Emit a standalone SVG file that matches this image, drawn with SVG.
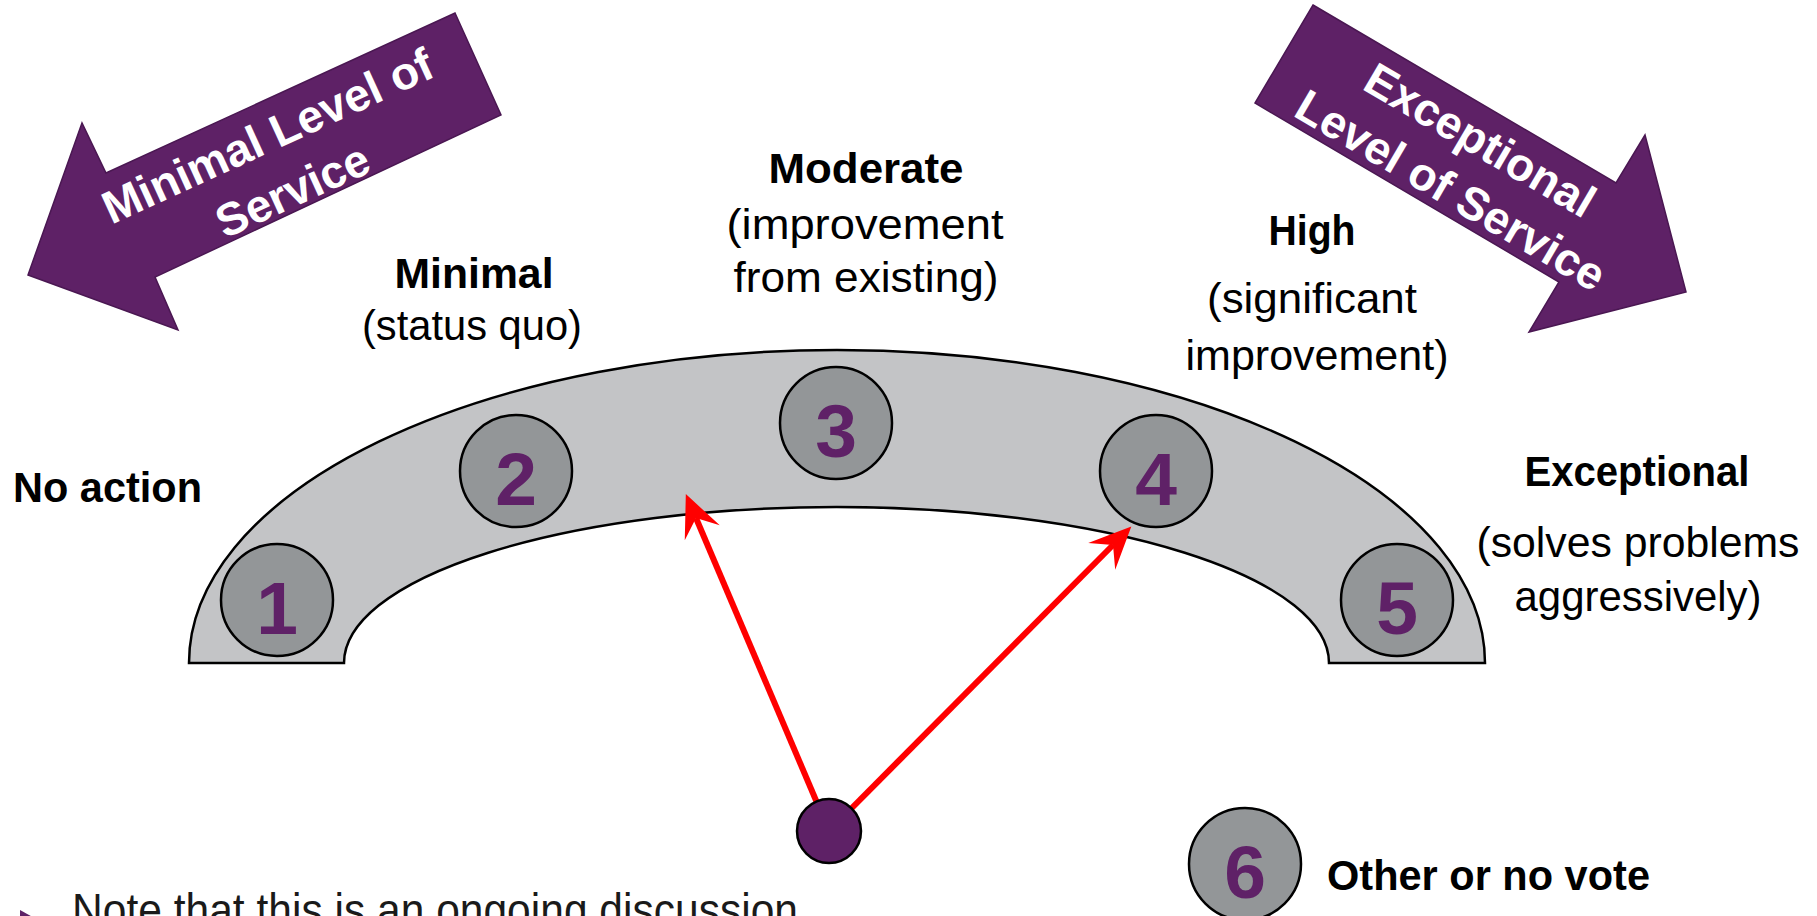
<svg xmlns="http://www.w3.org/2000/svg" width="1817" height="916" viewBox="0 0 1817 916">
<defs>
<style>
.bg{fill:#fff}
.band{fill:#C3C4C6;stroke:#000;stroke-width:2.5}
.circ{fill:#939698;stroke:#000;stroke-width:2.5}
.num{font-family:"Liberation Sans",Arial,sans-serif;font-weight:bold;font-size:75px;fill:#5F2167;text-anchor:middle}
.lb{font-family:"Liberation Sans",Arial,sans-serif;font-weight:bold;font-size:42px;fill:#000}
.lr{font-family:"Liberation Sans",Arial,sans-serif;font-size:42px;fill:#000}
.mid{text-anchor:middle}
.banner{fill:#5E2166;stroke:#4A1752;stroke-width:1.5}
.bt{font-family:"Liberation Sans",Arial,sans-serif;font-weight:bold;font-size:46px;fill:#fff;text-anchor:middle}
.conn{stroke:#FF0000;stroke-width:6;fill:none;marker-end:url(#head)}
.dot{fill:#5E2166;stroke:#000;stroke-width:2.5}
.note{font-family:"Liberation Sans",Arial,sans-serif;font-size:46px;fill:#1a1a1a}
</style>
<marker id="head" markerUnits="userSpaceOnUse" viewBox="-44 -22 46 44" refX="-26" refY="0" markerWidth="46" markerHeight="44" orient="auto">
<path d="M0 0 L-42 -19 L-26 0 L-42 19 Z" fill="#FF0000"/>
</marker>
</defs>
<rect class="bg" x="0" y="0" width="1817" height="916"/>

<g id="arrow-minimal">
<polygon class="banner" points="455,13 501,115 155,277 178,330 28,275 82,123 106,173"/>
<g transform="translate(280,163) rotate(-24.6)">
<text class="bt" x="0" y="-14" font-size="47">Minimal Level of</text>
<text class="bt" x="0" y="46" font-size="47">Service</text>
</g>
</g>

<g id="arrow-exceptional">
<polygon class="banner" points="1313,5 1616,183 1645,135 1686,292 1529,332 1559,282 1255,103"/>
<g transform="translate(1465,166) rotate(30.4)">
<text class="bt" x="0" y="-14">Exceptional</text>
<text class="bt" x="0" y="44">Level of Service</text>
</g>
</g>

<g id="gauge">
<path class="band" d="M189 663 A648 313 0 0 1 1485 663 L1329 663 A492.5 156 0 0 0 344 663 Z"/>
</g>

<g id="label-noaction"><text class="lb" x="13" y="502" textLength="189" lengthAdjust="spacingAndGlyphs">No action</text></g>
<g id="label-minimal">
<text class="lb mid" x="474" y="288" textLength="159" lengthAdjust="spacingAndGlyphs">Minimal</text>
<text class="lr mid" x="472" y="340" textLength="220" lengthAdjust="spacingAndGlyphs">(status quo)</text>
</g>
<g id="label-moderate">
<text class="lb mid" x="866" y="183" textLength="195" lengthAdjust="spacingAndGlyphs">Moderate</text>
<text class="lr mid" x="865" y="239" textLength="277" lengthAdjust="spacingAndGlyphs">(improvement</text>
<text class="lr mid" x="866" y="292" textLength="265" lengthAdjust="spacingAndGlyphs">from existing)</text>
</g>
<g id="label-high">
<text class="lb mid" x="1312" y="245" textLength="87" lengthAdjust="spacingAndGlyphs">High</text>
<text class="lr mid" x="1312" y="313" textLength="210" lengthAdjust="spacingAndGlyphs">(significant</text>
<text class="lr mid" x="1317" y="370" textLength="263" lengthAdjust="spacingAndGlyphs">improvement)</text>
</g>
<g id="label-exceptional">
<text class="lb mid" x="1637" y="486" textLength="225" lengthAdjust="spacingAndGlyphs">Exceptional</text>
<text class="lr mid" x="1638" y="557" textLength="323" lengthAdjust="spacingAndGlyphs">(solves problems</text>
<text class="lr mid" x="1638" y="611" textLength="247" lengthAdjust="spacingAndGlyphs">aggressively)</text>
</g>

<g id="connectors">
<line class="conn" x1="829" y1="831" x2="696" y2="518"/>
<line class="conn" x1="829" y1="831" x2="1113" y2="545"/>
</g>

<g id="node-1"><circle class="circ" cx="277" cy="600" r="56"/><text class="num" x="277" y="634">1</text></g>
<g id="node-2"><circle class="circ" cx="516" cy="471" r="56"/><text class="num" x="516" y="505">2</text></g>
<g id="node-3"><circle class="circ" cx="836" cy="423" r="56"/><text class="num" x="836" y="457">3</text></g>
<g id="node-4"><circle class="circ" cx="1156" cy="471" r="56"/><text class="num" x="1156" y="505">4</text></g>
<g id="node-5"><circle class="circ" cx="1397" cy="600" r="56"/><text class="num" x="1397" y="634">5</text></g>
<g id="node-6"><circle class="circ" cx="1245" cy="864" r="56"/><text class="num" x="1245" y="898">6</text></g>
<g id="label-other"><text class="lb" x="1327" y="890" font-size="48" textLength="323" lengthAdjust="spacingAndGlyphs">Other or no vote</text></g>

<g id="pivot"><circle class="dot" cx="829" cy="831" r="32"/></g>

<g id="note">
<polygon points="20,910 38,920 20,930" fill="#5E2166"/>
<text class="note" x="72" y="926" textLength="726" lengthAdjust="spacingAndGlyphs">Note that this is an ongoing discussion</text>
</g>
</svg>
